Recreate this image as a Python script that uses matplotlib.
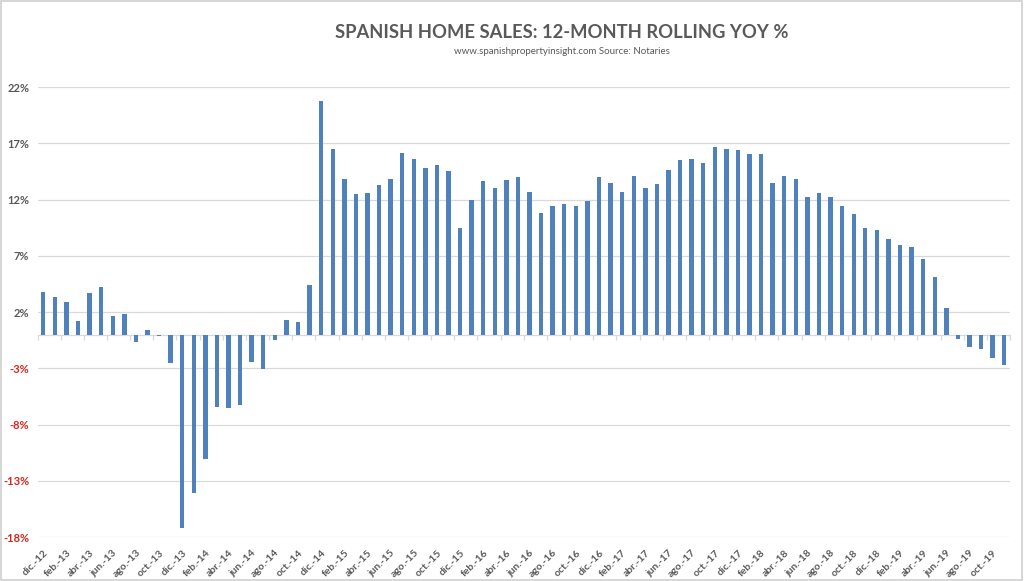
import matplotlib

matplotlib.use("Agg")
import matplotlib.pyplot as plt
from matplotlib.patches import Rectangle

plt.rcParams["font.family"] = ["Lato", "DejaVu Sans"]

# ── 数据 (dic.-12 .. nov.-19, 12-month rolling YoY %) ──
MONTHS = ["ene.", "feb.", "mar.", "abr.", "may.", "jun.",
          "jul.", "ago.", "sep.", "oct.", "nov.", "dic."]
START_YEAR = 12
START_MONTH = 11  # dic.

YOY = [
    3.76, 3.29, 2.90, 1.24, 3.70, 4.24, 1.63, 1.81, -0.65, 0.44, -0.10, -2.49,
    -17.24, -14.07, -11.05, -6.46, -6.55, -6.31, -2.40, -3.05, -0.50, 1.30, 1.10, 4.41,
    20.74, 16.53, 13.84, 12.47, 12.56, 13.27, 13.78, 16.15, 15.64, 14.79, 15.08, 14.55,
    9.48, 12.00, 13.66, 13.04, 13.75, 13.99, 12.71, 10.81, 11.38, 11.61, 11.38, 11.85,
    14.01, 13.51, 12.71, 14.13, 12.98, 13.42, 14.64, 15.53, 15.58, 15.26, 16.68, 16.53,
    16.44, 16.06, 16.06, 13.51, 14.13, 13.84, 12.18, 12.56, 12.18, 11.38, 10.67, 9.48,
    9.30, 8.50, 7.97, 7.79, 6.70, 5.13, 2.40, -0.41, -1.13, -1.30, -2.10, -2.73,
]
Y_TICKS = [-18, -13, -8, -3, 2, 7, 12, 17, 22]

TITLE = "SPANISH HOME SALES: 12-MONTH ROLLING YOY %"
SUBTITLE = "www.spanishpropertyinsight.com Source: Notaries"

BAR_COLOR = "#4F81BD"
GRID_COLOR = "#D9D9D9"
TEXT_COLOR = "#595959"
NEG_COLOR = "#D9261C"


def month_labels(n):
    labels = []
    for i in range(n):
        m = (START_MONTH + i) % 12
        y = START_YEAR + (START_MONTH + i) // 12
        labels.append(f"{MONTHS[m]}-{y:02d}")
    return labels


def main():
    n = len(YOY)
    x = list(range(n))
    labels = month_labels(n)

    fig = plt.figure(figsize=(10.24, 5.81), dpi=100)
    ax = fig.add_axes([37.5 / 1024, 1 - 537 / 581, (1010 - 37.5) / 1024, 450 / 581])

    ax.bar(x, YOY, width=0.38, color=BAR_COLOR, zorder=3)

    ax.set_xlim(-0.5, n - 0.5)
    ax.set_ylim(Y_TICKS[0], Y_TICKS[-1])
    ax.set_yticks(Y_TICKS)
    ax.set_yticklabels([f"{t}%" for t in Y_TICKS])
    for lbl, t in zip(ax.get_yticklabels(), Y_TICKS):
        lbl.set_color(NEG_COLOR if t < 0 else TEXT_COLOR)
        lbl.set_fontweight("bold")
        lbl.set_fontsize(8)
    ax.tick_params(axis="y", length=0, pad=6)
    ax.grid(axis="y", color=GRID_COLOR, linewidth=0.9, zorder=0)

    ax.set_xticks(x[::2])
    ax.set_xticklabels(labels[::2], rotation=45, ha="right", va="top",
                       rotation_mode="anchor", fontsize=7.5, color=TEXT_COLOR,
                       fontweight="bold")
    ax.tick_params(axis="x", length=0, pad=8)

    for s in ax.spines.values():
        s.set_visible(False)

    # 零线 + 类别刻度
    zero = ax.secondary_xaxis((0 - Y_TICKS[0]) / (Y_TICKS[-1] - Y_TICKS[0]))
    zero.set_xticks([k - 0.5 for k in range(0, n + 1, 2)])
    zero.set_xticklabels([])
    zero.tick_params(axis="x", length=3.5, color=GRID_COLOR, width=0.9)
    zero.spines["bottom"].set_color(GRID_COLOR)
    zero.spines["bottom"].set_linewidth(0.9)

    fig.text(562 / 1024, 1 - 33 / 581, TITLE, ha="center", va="center",
             fontsize=13.2, fontweight="bold", color=TEXT_COLOR)
    fig.text(562 / 1024, 1 - 52 / 581, SUBTITLE, ha="center", va="center",
             fontsize=7, color=TEXT_COLOR)

    fig.patches.append(Rectangle((0.001, 0.002), 0.997, 0.996, transform=fig.transFigure,
                                 fill=False, edgecolor="#D0D0D0", linewidth=1.2))

    fig.savefig("out.png", dpi=100)
    plt.close(fig)


if __name__ == "__main__":
    main()
